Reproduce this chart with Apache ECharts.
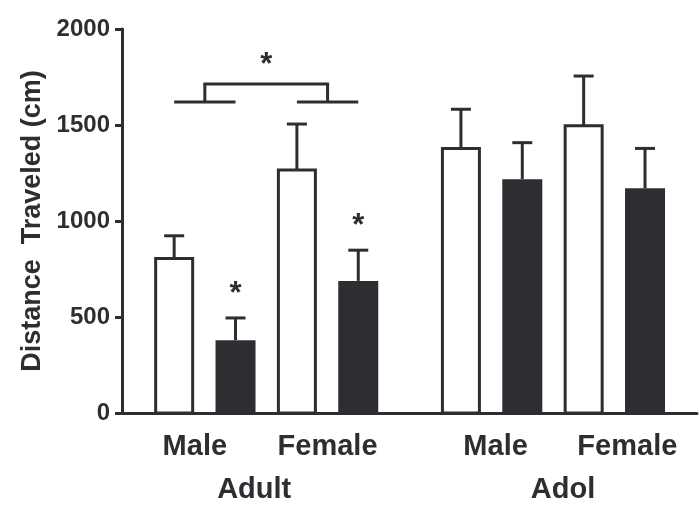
<!DOCTYPE html>
<html>
<head>
<meta charset="utf-8">
<script src="https://cdn.jsdelivr.net/npm/echarts@6/dist/echarts.min.js"></script>
<style>
  html, body { margin: 0; padding: 0; background: #fff; }
  #chart { width: 700px; height: 516px; }
</style>
</head>
<body>
<div id="chart"></div>
<script>
const groups = ['Adult', 'Adol'];
const sexes = ['Male', 'Female'];
// order: Adult Male, Adult Female, Adol Male, Adol Female
const controlMean = [805, 1265, 1378, 1496];
const controlSem = [118, 240, 204, 259];
const treatedMean = [379, 688, 1218, 1170];
const treatedSem = [116, 160, 190, 208];
const treatedSig = [true, true, false, false];
// adult male vs adult female bracket
const bracketLow = 1620;
const bracketHigh = 1713;
const yTicks = [0, 500, 1000, 1500, 2000];

const INK = '#2d2e32';
const FONT = '"Liberation Sans", Arial, Helvetica, sans-serif';
const GROUP_GAP = 0.673;
const BAR_W = 40;
const CAP_W = 20;
const LABEL_NUDGE = [-10, 0, 4, 13];
const GROUP_NUDGE = [-12, 10];

const slot = (g, s, t) => g * (4 + GROUP_GAP) + s * 2 + t;

const controlData = controlMean.map((m, i) => [slot(Math.floor(i / 2), i % 2, 0), m, controlSem[i]]);
const treatedData = treatedMean.map((m, i) => [slot(Math.floor(i / 2), i % 2, 1), m, treatedSem[i]]);
const starData = treatedData.filter((d, i) => treatedSig[i]).map(d => [d[0], d[1] + d[2]]);
const bracketData = [[slot(0, 0, 0), slot(0, 0, 1), slot(0, 1, 0), slot(0, 1, 1), bracketLow, bracketHigh]];
const sexLabelData = controlData.map((d, i) => [d[0] + 0.5, i]);
const groupLabelData = groups.map((g, i) => [slot(i, 0, 0) + 1.5, i]);

const lineStyle = { stroke: INK, lineWidth: 3 };

const renderBar = filled => (params, api) => {
  const x = api.value(0);
  const base = api.coord([x, 0]);
  const top = api.coord([x, api.value(1)]);
  const err = api.coord([x, api.value(1) + api.value(2)]);
  const w = filled ? BAR_W : BAR_W - 3;
  return {
    type: 'group',
    children: [
      {
        type: 'line',
        shape: { x1: top[0], y1: top[1], x2: err[0], y2: err[1] },
        style: lineStyle
      },
      {
        type: 'line',
        shape: { x1: err[0] - CAP_W / 2, y1: err[1], x2: err[0] + CAP_W / 2, y2: err[1] },
        style: lineStyle
      },
      {
        type: 'rect',
        shape: { x: base[0] - w / 2, y: top[1], width: w, height: base[1] - top[1] },
        style: filled ? { fill: INK } : { fill: '#fff', stroke: INK, lineWidth: 3 }
      }
    ]
  };
};

const starText = (x, y) => ({
  type: 'text',
  x: x,
  y: y,
  style: {
    text: '*', fill: INK, fontSize: 31, fontWeight: 'bold', fontFamily: FONT,
    align: 'center', verticalAlign: 'middle'
  }
});

const chart = echarts.init(document.getElementById('chart'));
chart.setOption({
  animation: false,
  grid: { left: 122, right: 3, top: 29, bottom: 103, outerBoundsMode: 'none' },
  xAxis: {
    type: 'value',
    min: -0.85,
    max: 8.52,
    axisLine: { onZero: false, lineStyle: { color: INK, width: 3 } },
    axisTick: { show: false },
    axisLabel: { show: false },
    splitLine: { show: false }
  },
  yAxis: {
    type: 'value',
    min: yTicks[0],
    max: yTicks[yTicks.length - 1],
    interval: yTicks[1] - yTicks[0],
    name: 'Distance  Traveled (cm)',
    nameLocation: 'middle',
    nameGap: 74,
    nameTextStyle: { color: INK, fontSize: 27, fontWeight: 'bold', fontFamily: FONT },
    axisLine: { show: true, onZero: false, lineStyle: { color: INK, width: 3 } },
    axisTick: { show: true, length: 7, lineStyle: { color: INK, width: 3 } },
    axisLabel: {
      color: INK, fontSize: 24, fontWeight: 'bold', fontFamily: FONT, margin: 12,
      formatter: v => String(v)
    },
    splitLine: { show: false }
  },
  series: [
    {
      type: 'custom',
      name: 'control',
      clip: false,
      renderItem: renderBar(false),
      encode: { x: 0, y: 1 },
      data: controlData
    },
    {
      type: 'custom',
      name: 'treated',
      clip: false,
      renderItem: renderBar(true),
      encode: { x: 0, y: 1 },
      data: treatedData
    },
    {
      type: 'custom',
      name: 'stars',
      clip: false,
      renderItem: (params, api) => {
        const p = api.coord([api.value(0), api.value(1)]);
        return starText(p[0], p[1] - 24);
      },
      encode: { x: 0, y: 1 },
      data: starData
    },
    {
      type: 'custom',
      name: 'bracket',
      clip: false,
      renderItem: (params, api) => {
        const yl = api.coord([0, api.value(4)])[1];
        const yh = api.coord([0, api.value(5)])[1];
        const xs = [0, 1, 2, 3].map(k => api.coord([api.value(k), 0])[0]);
        const m1 = (xs[0] + xs[1]) / 2;
        const m2 = (xs[2] + xs[3]) / 2;
        const seg = (x1, y1, x2, y2) => ({ type: 'line', shape: { x1, y1, x2, y2 }, style: lineStyle });
        return {
          type: 'group',
          children: [
            seg(xs[0], yl, xs[1], yl),
            seg(xs[2], yl, xs[3], yl),
            seg(m1, yl, m1, yh),
            seg(m2, yl, m2, yh),
            seg(m1 - 1.5, yh, m2 + 1.5, yh),
            starText((m1 + m2) / 2, yh - 19)
          ]
        };
      },
      encode: { x: [0, 1, 2, 3], y: [4, 5] },
      data: bracketData
    },
    {
      type: 'custom',
      name: 'sexLabels',
      clip: false,
      renderItem: (params, api) => {
        const i = api.value(1);
        const p = api.coord([api.value(0), 0]);
        return {
          type: 'text',
          x: p[0] + LABEL_NUDGE[i],
          y: p[1] + 34,
          style: {
            text: sexes[i % 2], fill: INK, fontSize: 29, fontWeight: 'bold', fontFamily: FONT,
            align: 'center', verticalAlign: 'middle'
          }
        };
      },
      encode: { x: 0 },
      data: sexLabelData
    },
    {
      type: 'custom',
      name: 'groupLabels',
      clip: false,
      renderItem: (params, api) => {
        const i = api.value(1);
        const p = api.coord([api.value(0), 0]);
        return {
          type: 'text',
          x: p[0] + GROUP_NUDGE[i],
          y: p[1] + 77,
          style: {
            text: groups[i], fill: INK, fontSize: 29, fontWeight: 'bold', fontFamily: FONT,
            align: 'center', verticalAlign: 'middle'
          }
        };
      },
      encode: { x: 0 },
      data: groupLabelData
    }
  ]
});
window.addEventListener('resize', () => chart.resize());
</script>
</body>
</html>
